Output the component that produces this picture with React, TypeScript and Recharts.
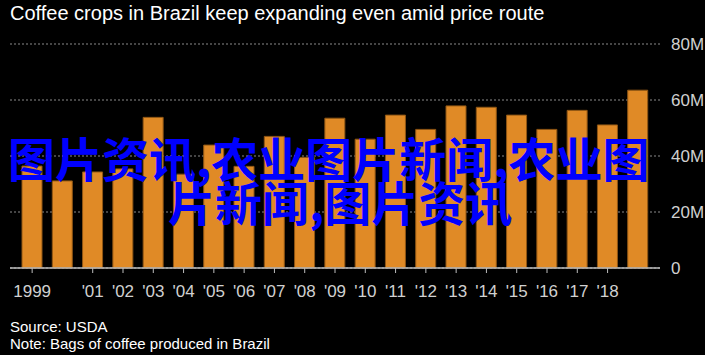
import React from 'react';
import { BarChart, Bar, XAxis, YAxis, CartesianGrid } from 'recharts';

const years = ['1999', '2000', '2001', '2002', '2003', '2004', '2005', '2006', '2007', '2008', '2009', '2010', '2011', '2012', '2013', '2014', '2015', '2016', '2017', '2018', '2019'];
const tickLabels = ['1999', '', "'01", "'02", "'03", "'04", "'05", "'06", "'07", "'08", "'09", "'10", "'11", "'12", "'13", "'14", "'15", "'16", "'17", "'18", ''];
const bags = [36.4, 31.1, 34.3, 35.4, 53.8, 33.5, 43.9, 36.3, 47.0, 39.5, 53.5, 46.0, 54.6, 49.5, 57.9, 57.4, 54.6, 49.5, 56.3, 51.1, 63.5];
const yTicks = [0, 20, 40, 60, 80];

const title = 'Coffee crops in Brazil keep expanding even amid price route';
const source = 'Source: USDA';
const note = 'Note: Bags of coffee produced in Brazil';
const watermark1 = '图片资讯,农业图片新闻,农业图';
const watermark2 = '片新闻,图片资讯';

const data = years.map((y, i) => ({ year: y, label: tickLabels[i], value: bags[i] }));

const narrow = '"Liberation Sans Narrow", "Liberation Sans", Arial, sans-serif';

const XTick = (props: any) => {
  const { x, y, index } = props;
  const label = tickLabels[index];
  if (!label) return null;
  return (
    <g>
      <line x1={x} x2={x} y1={y} y2={y + 5} stroke="#bdbdbd" strokeWidth={1} />
      <text x={x} y={y + 29} textAnchor="middle" fill="#d0d0d0" fontSize={17} fontFamily={narrow}>
        {label}
      </text>
    </g>
  );
};

export default function App() {
  return (
    <div style={{ position: 'absolute', left: 0, top: 0, width: 705, height: 355, background: '#000', overflow: 'hidden' }}>
      <div style={{ position: 'absolute', left: 10, top: 2, color: '#fff', fontFamily: narrow, fontSize: 20, lineHeight: '23px', whiteSpace: 'nowrap' }}>
        {title}
      </div>
      <BarChart
        width={705}
        height={355}
        data={data}
        margin={{ top: 44, right: 0, bottom: 57, left: 10 }}
        barSize={20}
      >
        <CartesianGrid vertical={false} stroke="#8a8a8a" strokeDasharray="2 2" />
        <XAxis
          dataKey="year"
          height={30}
          interval={0}
          padding={{ left: 7, right: 7 }}
          axisLine={{ stroke: '#bdbdbd', strokeWidth: 1.5 }}
          tickLine={false}
          tickSize={0}
          tickMargin={0}
          tick={<XTick />}
        />
        <YAxis
          orientation="right"
          width={45}
          domain={[0, 80]}
          ticks={yTicks}
          axisLine={false}
          tickLine={false}
          tickSize={0}
          tickMargin={11}
          tick={{ fill: '#d0d0d0', fontSize: 17, fontFamily: narrow, textAnchor: 'start' }}
          tickFormatter={(v: number) => (v === 0 ? '0' : `${v}M`)}
        />
        <Bar dataKey="value" fill="#e08a26" stroke="#8f5614" strokeWidth={1} isAnimationActive={false} />
      </BarChart>
      <div style={{ position: 'absolute', left: 10, top: 318, color: '#fff', fontFamily: '"Liberation Sans", Arial, sans-serif', fontSize: 15, lineHeight: '17px', whiteSpace: 'nowrap' }}>
        <div>{source}</div>
        <div>{note}</div>
      </div>
      <div style={{ position: 'absolute', left: 8, top: 133, color: '#0000ff', fontFamily: '"Noto Sans CJK SC", sans-serif', fontWeight: 700, fontSize: 47, lineHeight: '47px', whiteSpace: 'nowrap' }}>
        {watermark1}
      </div>
      <div style={{ position: 'absolute', left: 168, top: 177, color: '#0000ff', fontFamily: '"Noto Sans CJK SC", sans-serif', fontWeight: 700, fontSize: 47, lineHeight: '47px', whiteSpace: 'nowrap' }}>
        {watermark2}
      </div>
    </div>
  );
}
